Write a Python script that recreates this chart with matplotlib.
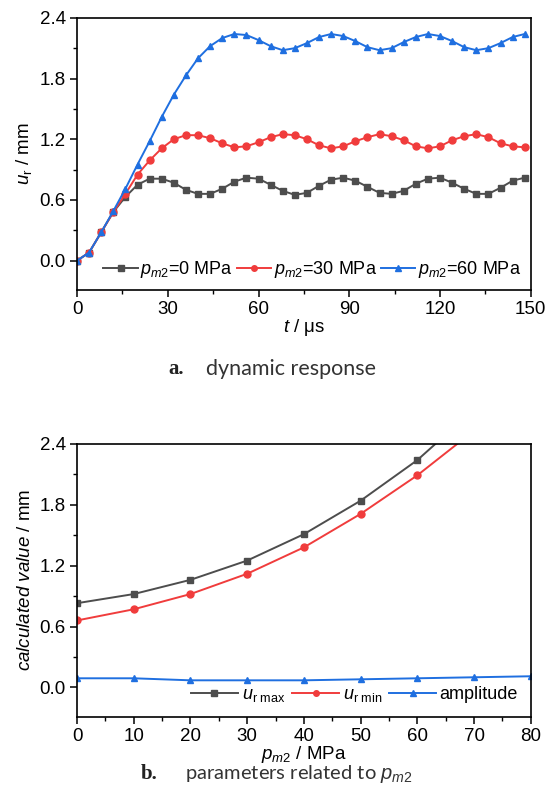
import numpy as np
import matplotlib
matplotlib.use('Agg')
import matplotlib.pyplot as plt

plt.rcParams['font.family'] = ['Liberation Sans', 'DejaVu Sans']
plt.rcParams['mathtext.fontset'] = 'custom'
plt.rcParams['mathtext.rm'] = 'Liberation Sans'
plt.rcParams['mathtext.it'] = 'Liberation Sans:italic'
plt.rcParams['mathtext.bf'] = 'Liberation Sans:bold'

# (a) dynamic response, t in us, u_r in mm
t = np.arange(0, 150, 4)
u_p0 = [0.00, 0.08, 0.28, 0.48, 0.63, 0.75, 0.81, 0.81, 0.77, 0.70,
        0.66, 0.66, 0.71, 0.78, 0.82, 0.81, 0.75, 0.69, 0.65, 0.67,
        0.74, 0.80, 0.82, 0.79, 0.73, 0.67, 0.66, 0.69, 0.76, 0.81,
        0.82, 0.77, 0.71, 0.66, 0.66, 0.72, 0.79, 0.82]
u_p30 = [0.00, 0.08, 0.28, 0.48, 0.66, 0.85, 0.99, 1.11, 1.20, 1.24,
         1.24, 1.21, 1.16, 1.12, 1.13, 1.17, 1.22, 1.25, 1.24, 1.20,
         1.14, 1.11, 1.13, 1.18, 1.22, 1.25, 1.23, 1.19, 1.13, 1.11,
         1.13, 1.19, 1.23, 1.25, 1.22, 1.16, 1.13, 1.12]
u_p60 = [0.00, 0.08, 0.28, 0.49, 0.71, 0.95, 1.18, 1.42, 1.64, 1.83,
         2.00, 2.12, 2.20, 2.24, 2.23, 2.18, 2.12, 2.08, 2.10, 2.15,
         2.21, 2.24, 2.22, 2.17, 2.11, 2.08, 2.10, 2.16, 2.21, 2.24,
         2.22, 2.17, 2.11, 2.08, 2.10, 2.15, 2.21, 2.24]

# (b) parameters vs p_m2 (MPa)
pm2 = [0, 10, 20, 30, 40, 50, 60, 70, 80]
ur_max = [0.83, 0.92, 1.06, 1.25, 1.51, 1.84, 2.24, 2.74, 3.35]
ur_min = [0.66, 0.77, 0.92, 1.12, 1.38, 1.71, 2.09, 2.53, 3.05]
amplitude = [0.09, 0.09, 0.07, 0.07, 0.07, 0.08, 0.09, 0.10, 0.11]

c_gray = '#4d4d4d'
c_red = '#f03c3c'
c_blue = '#1f6fe0'

fig = plt.figure(figsize=(5.5, 8.1), dpi=100)
ax1 = fig.add_axes([0.140, 0.642, 0.825, 0.336])
ax2 = fig.add_axes([0.140, 0.115, 0.825, 0.337])

ms = 5
ax1.plot(t, u_p0, '-s', color=c_gray, lw=1.4, ms=ms, label=r'$p_{m2}$=0 MPa')
ax1.plot(t, u_p30, '-o', color=c_red, lw=1.4, ms=ms, label=r'$p_{m2}$=30 MPa')
ax1.plot(t, u_p60, '-^', color=c_blue, lw=1.4, ms=ms, label=r'$p_{m2}$=60 MPa')
ax1.set_xlim(0, 150)
ax1.set_ylim(-0.29, 2.4)
ax1.set_xticks(np.arange(0, 151, 30))
ax1.set_xticks(np.arange(15, 150, 30), minor=True)
ax1.set_yticks(np.arange(0, 2.41, 0.6))
ax1.set_yticks(np.arange(0.3, 2.4, 0.6), minor=True)
ax1.set_yticklabels(['0.0', '0.6', '1.2', '1.8', '2.4'])
ax1.set_xlabel(r'$t$ / μs', fontsize=13.5, labelpad=-1)
ax1.set_ylabel(r'$u_{\mathrm{r}}$ / mm', fontsize=13.5, labelpad=4)
ax1.legend(loc='lower right', ncol=3, frameon=False, fontsize=13,
           handlelength=1.9, handletextpad=0.15, columnspacing=0.2,
           markerscale=0.8, borderaxespad=0.35, borderpad=0.2)

ax2.plot(pm2, ur_max, '-s', color=c_gray, lw=1.4, ms=ms, label=r'$u_{\mathrm{r\ max}}$')
ax2.plot(pm2, ur_min, '-o', color=c_red, lw=1.4, ms=ms, label=r'$u_{\mathrm{r\ min}}$')
ax2.plot(pm2, amplitude, '-^', color=c_blue, lw=1.4, ms=ms, label='amplitude')
ax2.set_xlim(0, 80)
ax2.set_ylim(-0.29, 2.4)
ax2.set_xticks(np.arange(0, 81, 10))
ax2.set_xticks(np.arange(5, 80, 10), minor=True)
ax2.set_yticks(np.arange(0, 2.41, 0.6))
ax2.set_yticks(np.arange(0.3, 2.4, 0.6), minor=True)
ax2.set_yticklabels(['0.0', '0.6', '1.2', '1.8', '2.4'])
ax2.set_xlabel(r'$p_{m2}$ / MPa', fontsize=13.5, labelpad=-1)
ax2.set_ylabel(r'$calculated\ value$ / mm', fontsize=13.5, labelpad=4)
ax2.legend(loc='lower right', ncol=3, frameon=False, fontsize=13,
           handlelength=2.6, handletextpad=0.2, columnspacing=0.4,
           markerscale=0.8, borderaxespad=0.5, borderpad=0.2)

for ax in (ax1, ax2):
    ax.tick_params(which='both', direction='out', top=False, right=False,
                   labelsize=13.5, pad=3)
    ax.tick_params(which='major', length=5, width=1.1)
    ax.tick_params(which='minor', length=3, width=1.0)
    for s in ax.spines.values():
        s.set_linewidth(1.2)

# captions
fig.text(0.335, 0.545, 'a.', fontsize=15, fontweight='bold',
         family='Liberation Serif', ha='right', va='center', color='#222222')
fig.text(0.375, 0.545, 'dynamic response', fontsize=15.5, family='Lato',
         ha='left', va='center', color='#333333')
fig.text(0.287, 0.044, 'b.', fontsize=15, fontweight='bold',
         family='Liberation Serif', ha='right', va='center', color='#222222')
fig.text(0.337, 0.044, r'parameters related to $p_{m2}$', fontsize=14.5,
         family='Lato', ha='left', va='center', color='#333333')

fig.savefig('out.png', dpi=100)
